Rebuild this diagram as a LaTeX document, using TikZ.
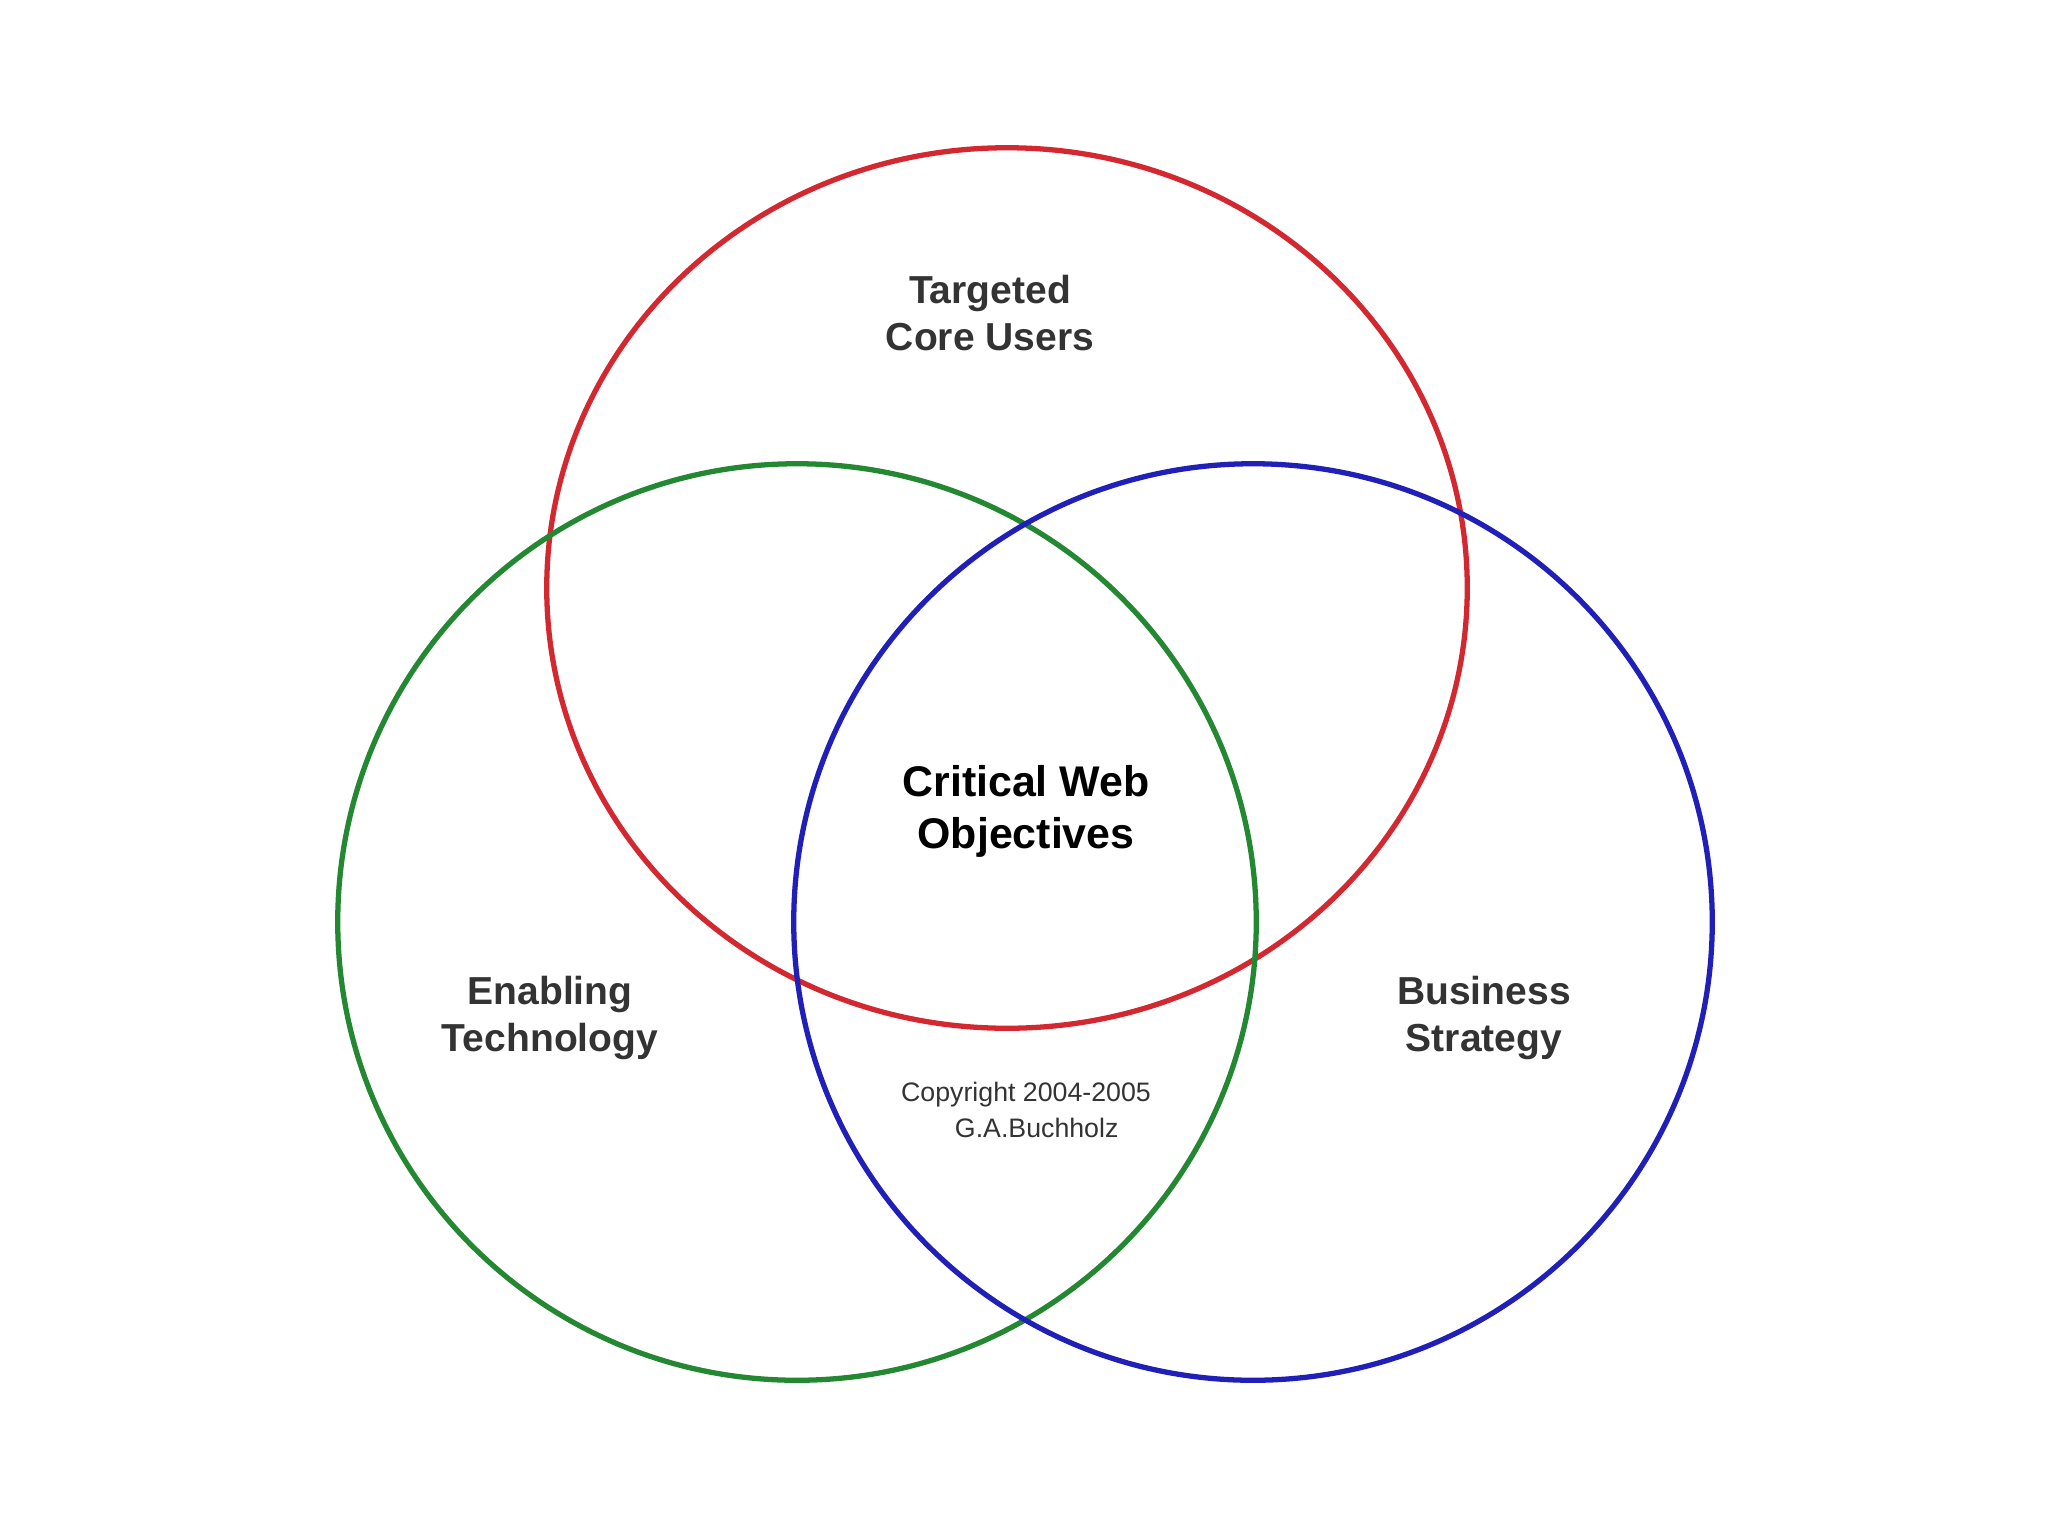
\documentclass[tikz,border=0pt]{standalone}
\usepackage{fontspec}
\setmainfont{Liberation Sans}
\usetikzlibrary{positioning,shapes.geometric}
\definecolor{ringred}{RGB}{212,40,48}
\definecolor{ringgreen}{RGB}{36,136,50}
\definecolor{ringblue}{RGB}{32,32,184}
\tikzset{
    % Define style for the rings
    ring/.style={
           ellipse,
           draw, line width=1.5pt,
           inner sep=0pt,
           minimum width=9.18cm,
           minimum height=9.16cm},
    % Define style for the labels
    area text/.style={
           align=center,
           text=black!80,
           font=\bfseries\fontsize{11.1}{13.4}\selectfont},
    core text/.style={
           align=center,
           font=\bfseries\fontsize{12.2}{14.8}\selectfont},
    note text/.style={
           align=center,
           text=black!80,
           font=\fontsize{7.6}{10.2}\selectfont}
}

\begin{document}
\begin{tikzpicture}[x=0.01cm,y=-0.01cm]
  \useasboundingbox[fill=white] (0,0) rectangle (2048,1536);
  % rings
  \node[ring, draw=ringred, minimum width=9.2cm, minimum height=8.8cm] (users) at (1007,588) {};
  \node[ring, draw=ringgreen] (tech) at (797,922) {};
  \node[ring, draw=ringblue] (business) at (1253,922) {};
  % texts
  \node[area text] (userstext) at (990,313) {Targeted\\Core Users};
  \node[area text] (techtext) at (550,1018) {Enabling\\Technology};
  \node[area text] (businesstext) at (1484,1018) {Business\\Strategy};
  \node[core text] (objectives) at (1026,811) {Critical Web\\Objectives};
  \node[note text] (copyright) at (1026,1110) {Copyright 2004-2005\\\hspace*{0.8em}G.A.Buchholz};
\end{tikzpicture}
\end{document}
